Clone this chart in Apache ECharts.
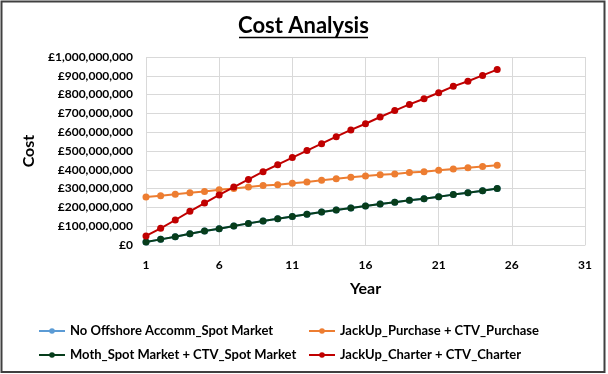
<!DOCTYPE html>
<html><head><meta charset="utf-8">
<script src="https://cdn.jsdelivr.net/npm/echarts@6/dist/echarts.min.js"></script>
<style>html,body{margin:0;padding:0;background:#fff}#c{width:608px;height:374px}</style>
</head><body><div id="c"></div>
<script>
const years = Array.from({length: 31}, (_, i) => String(i + 1));
const noOffshore = [16,30,44,60,74,87,101,115,128,140,152,163,176,186,197,207,218,227,238,246,257,268,278,289,300];
const jackUpPurchase = [255,262,270,278,285,294,300,309,316,321,328,335,344,353,360,367,374,378,385,390,397,404,411,418,424];
const mothSpot = [16,30,44,60,74,87,101,115,128,140,152,163,176,186,197,207,218,227,238,246,257,268,278,289,300];
const jackUpCharter = [48,89,133,179,223,266,308,349,390,427,465,502,539,576,612,645,681,715,748,778,810,844,871,902,933];
const seriesNames = ['No Offshore Accomm_Spot Market','JackUp_Purchase + CTV_Purchase','Moth_Spot Market + CTV_Spot Market','JackUp_Charter + CTV_Charter'];
const colors = ['#5b9bd5','#ed7d31','#073d1b','#c00000'];
const M = 1e6;

function fmt(v){ return '£' + Math.round(v).toString().replace(/\B(?=(\d{3})+(?!\d))/g, ','); }

const chart = echarts.init(document.getElementById('c'), null, {renderer:'canvas'});
const dataSets = [noOffshore, jackUpPurchase, mothSpot, jackUpCharter];
const FONT = 'Lato';
const legendText = {fontFamily: FONT, fontWeight: 'bold', fontSize: 13, color: '#000', lineHeight: 14};
chart.setOption({
  animation: false,
  backgroundColor: '#fff',
  grid: {left: 146, right: 23, top: 57, bottom: 129, containLabel: false},
  xAxis: {
    type: 'category', data: years, boundaryGap: false,
    name: 'Year', nameLocation: 'middle', nameGap: 36,
    nameTextStyle: {fontFamily: FONT, fontWeight: 'bold', fontSize: 16, color: '#000'},
    axisLine: {lineStyle: {color: '#d9d9d9'}},
    axisTick: {show: false},
    axisLabel: {interval: 4, margin: 14, fontFamily: FONT, fontWeight: 'bold', fontSize: 12, color: '#000'},
    splitLine: {show: true, interval: 4, lineStyle: {color: '#d9d9d9'}}
  },
  yAxis: {
    type: 'value', min: 0, max: 1000*M, interval: 100*M,
    name: 'Cost', nameLocation: 'middle', nameGap: 108, nameRotate: 90,
    nameTextStyle: {fontFamily: FONT, fontWeight: 'bold', fontSize: 16, color: '#000'},
    axisLine: {show: false}, axisTick: {show: false},
    axisLabel: {formatter: fmt, margin: 13, fontFamily: FONT, fontWeight: 'bold', fontSize: 12, color: '#000'},
    splitLine: {lineStyle: {color: '#d9d9d9'}}
  },
  legend: [
    {data: [seriesNames[0], seriesNames[2]], orient: 'vertical', left: 38, top: 324, padding: 0, itemWidth: 26, itemHeight: 7, itemGap: 10,
     textStyle: legendText},
    {data: [seriesNames[1], seriesNames[3]], orient: 'vertical', left: 308, top: 324, padding: 0, itemWidth: 26, itemHeight: 7, itemGap: 10,
     textStyle: legendText}
  ],
  series: dataSets.map((d, i) => ({
    name: seriesNames[i], type: 'line', data: d.map(v => v * M),
    symbol: 'circle', symbolSize: 7, showSymbol: true,
    lineStyle: {width: 2, color: colors[i]}, itemStyle: {color: colors[i]},
    z: 2 + i
  })),
  graphic: [
    {type: 'rect', shape: {x: 1.5, y: 1.5, width: 603, height: 370.5}, style: {fill: null, stroke: '#404040', lineWidth: 2}, silent: true},
    {type: 'text', x: 303.5, y: 26, style: {text: 'Cost Analysis', font: 'bold 22px Lato', fill: '#000', align: 'center', verticalAlign: 'middle'}},
    {type: 'line', shape: {x1: 239, y1: 37.5, x2: 368, y2: 37.5}, style: {stroke: '#000', lineWidth: 1.5}}
  ]
});
</script></body></html>
